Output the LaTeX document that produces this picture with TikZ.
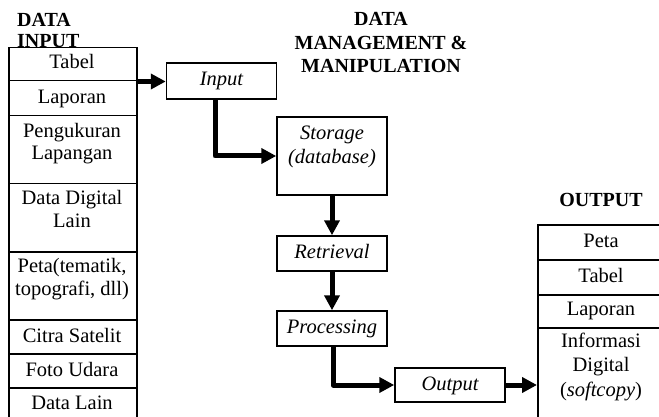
\documentclass[tikz,border=0pt]{standalone}
\usepackage{fontspec}
\setmainfont{Liberation Serif}
\usetikzlibrary{arrows.meta,calc}
\newcommand\bodyfont{\fontsize{20.5}{22.5}\selectfont}
\newcommand\headfont{\fontsize{20}{23.5}\selectfont\bfseries}
\tikzset{
  head/.style={anchor=base, align=center, inner sep=0pt, font=\headfont},
  cellbox/.style={draw, line width=1.5pt, minimum width=128pt, inner sep=0pt, anchor=north west},
  celltext/.style={anchor=base, align=center, inner sep=0pt, font=\bodyfont},
  procbox/.style={draw, line width=1.5pt, minimum width=110pt, inner sep=0pt,
                  text height=14pt, text depth=4pt, font=\bodyfont\itshape},
  flow/.style={line width=5pt, line join=round, -{Triangle[length=15pt,width=15pt]}}
}
\begin{document}
\begin{tikzpicture}[x=1pt,y=-1pt]
\useasboundingbox (0,0) rectangle (659,417);
\clip (0,0) rectangle (659,417);

% headings (anchor = baseline of the last line)
\node[head, anchor=base west, align=left, font=\fontsize{20}{20.5}\selectfont\bfseries] (hin) at (17,47.5) {DATA\\INPUT};
\node[head] (hmg) at (381,73) {DATA\\MANAGEMENT \&\\MANIPULATION};
\node[head] (hout) at (601,207) {OUTPUT};

% input sources column
\node[cellbox, minimum height=33pt] (c1) at (8,47) {};
\node[cellbox, minimum height=35pt] (c2) at (8,80) {};
\node[cellbox, minimum height=68pt] (c3) at (8,115) {};
\node[cellbox, minimum height=68pt] (c4) at (8,183) {};
\node[cellbox, minimum height=68pt] (c5) at (8,251) {};
\node[cellbox, minimum height=34pt] (c6) at (8,319) {};
\node[cellbox, minimum height=34pt] (c7) at (8,353) {};
\node[cellbox, minimum height=50pt] (c8) at (8,387) {};
\node[celltext] (t1) at (72,69) {Tabel};
\node[celltext] (t2) at (72,104) {Laporan};
\node[celltext] (t3) at (72,160) {Pengukuran\\Lapangan};
\node[celltext] (t4) at (72,227) {Data Digital\\Lain};
\node[celltext] (t5) at (72,295) {Peta(tematik,\\topografi, dll)};
\node[celltext] (t6) at (72,342) {Citra Satelit};
\node[celltext] (t7) at (72,376) {Foto Udara};
\node[celltext] (t8) at (72,409) {Data Lain};

% processing chain
\node[procbox, minimum height=36pt] (inp) at (221.5,81) {Input};
\node[draw, line width=1.5pt, minimum width=110pt, minimum height=78pt, inner sep=0pt] (sto) at (332,156) {};
\node[celltext, font=\bodyfont\itshape, align=center] (stot) at (332,164) {Storage\\[1.5pt](database)};
\node[procbox, minimum height=35pt] (ret) at (332,253.5) {Retrieval};
\node[procbox, minimum height=35pt] (pro) at (332,328.5) {Processing};
\node[procbox, minimum height=34pt] (out) at (450,385) {Output};

% output products column
\node[cellbox, minimum height=35pt] (o1) at (537,224) {};
\node[cellbox, minimum height=35pt] (o2) at (537,259) {};
\node[cellbox, minimum height=33pt] (o3) at (537,294) {};
\node[cellbox, minimum height=110pt] (o4) at (537,327) {};
\node[celltext] (u1) at (601,247) {Peta};
\node[celltext] (u2) at (601,282) {Tabel};
\node[celltext] (u3) at (601,315.5) {Laporan};
\node[celltext, font=\fontsize{20.5}{24.5}\selectfont] (u4) at (601,396) {Informasi\\Digital\\(\textit{softcopy})};

% connectors
\coordinate (a0) at (c1.south east);
\draw[flow] (a0) -- (inp.west |- a0);
\coordinate (a1) at ($(inp.south)+(-6.5,0)$);
\draw[flow] (a1) |- (sto.west);
\draw[flow] (sto.south) -- (ret.north);
\draw[flow] (ret.south) -- (pro.north);
\coordinate (a2) at ($(pro.south)+(1,0)$);
\draw[flow] (a2) |- (out.west);
\draw[flow] (out.east) -- (o4.west |- out.east);
\end{tikzpicture}
\end{document}
